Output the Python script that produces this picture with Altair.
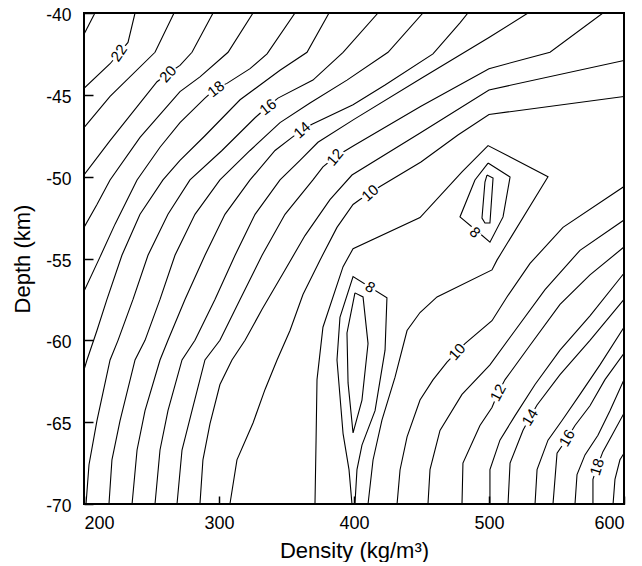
import altair as alt
import pandas as pd

# ---- contour polylines (density kg/m^3, depth km) ----
c23 = [(208.1,-40),(200,-41.3)]
c22 = [(237.8,-40),(232.6,-41.8),(219.3,-43.1),(200,-44.6)]
c21 = [(266.7,-40),(252.6,-42.4),(219.3,-45.1),(200,-47.0)]
c20 = [(295.6,-40),(280,-42.4),(271.1,-43.2),(262.2,-43.7),(254.1,-44.2),(219.3,-47.8),(200,-49.9)]
c19 = [(325.2,-40),(306.7,-42.4),(285.9,-43.9),(271.1,-44.8),(241.5,-47.6),(219.3,-50.2),(209.6,-51.7),(200,-53.1)]
c18 = [(356.3,-40),(335.6,-42.5),(323,-43.4),(305.9,-44.3),(297.8,-44.6),(289.6,-45.2),(271.1,-46.7),
       (256.3,-48.2),(239.3,-50.2),(223,-52.9),(211.9,-54.9),(200,-57.0)]
c17 = [(381.5,-40),(365.2,-42.4),(345.2,-43.5),(315.6,-45.3),(289.6,-47.5),(271.1,-49.0),(258.5,-50.2),
       (241.5,-52.3),(228.1,-54.8),(217,-57.5),(209.6,-59.4),(202.2,-61.2),(200,-61.8)]
c16 = [(417.8,-40),(391.9,-42.4),(369.6,-44.1),(343.7,-45.2),(336.3,-45.7),(326.7,-46.4),(302.2,-48.4),
       (278.5,-50.2),(262.2,-52.3),(247.4,-54.8),(236.3,-57.5),(225.2,-60.0),(219.3,-61.2),(209.6,-64.9),
       (203.7,-67.6),(201.5,-70)]
c15 = [(451.1,-40),(425.2,-42.4),(394.8,-44.1),(367.4,-45.5),(345.2,-46.7),(323,-48.4),(300.7,-50.2),
       (282.2,-52.3),(267.4,-54.8),(256.3,-57.5),(245.2,-60.0),(237.8,-61.2),(226.7,-64.9),(220.7,-67.3),
       (218.5,-70)]
c14 = [(484.4,-40),(478.5,-40.6),(458.5,-42.5),(423,-44.4),(399.3,-45.6),(368.9,-46.8),(361.5,-47.15),
       (354.1,-47.6),(341.5,-48.4),(323,-50.2),(304.4,-52.3),(289.6,-54.8),(274.8,-57.5),(262.2,-60.0),
       (256.3,-61.2),(245.2,-64.3),(239.3,-66.7),(235.6,-70)]
c13 = [(528.9,-40),(500,-41.5),(449.6,-44.0),(400,-46.5),(373.3,-47.9),(360,-49.0),(345.2,-50.2),
       (326.7,-52.3),(311.9,-54.8),(297,-57.5),(282.2,-60.0),(272.6,-61.2),(262.2,-64.3),(256.3,-66.7),
       (252.6,-70)]
c12 = [(584.4,-40),(545.2,-42.4),(500,-43.4),(449.6,-45.7),(400,-48.1),(385.9,-48.8),(377,-49.4),
       (369.6,-50.2),(348.9,-52.3),(331.9,-54.8),(315.6,-57.5),(300.7,-60.0),(289.6,-61.2),(280,-64.3),
       (272.6,-66.7),(268.9,-70)]
c11 = [(600,-42.9),(500,-44.7),(449.6,-47.3),(398.5,-49.9),(382.2,-51.4),(363.7,-53.6),(348.9,-55.7),
       (331.9,-58.1),(319.3,-60.0),(309.6,-61.2),(300.7,-62.7),(293.3,-65.1),(288.1,-67.3),(285.9,-70)]
c10a = [(600,-45.1),(500,-46.2),(477,-47.45),(449.6,-49.1),(419.3,-50.6),(411.9,-51.0),(404.4,-51.4),
        (399.3,-51.7),(387.4,-53.1),(374.8,-55.1),(362.2,-57.2),(352.6,-59.4),(343,-61.2),(334.1,-63.0),
        (325.2,-65.05),(313.3,-67.3),(308.1,-70)]
c9 = [(371.1,-70),(371.9,-66.1),(372.6,-62.4),(377,-59.2),(391.9,-55.5),(399.3,-54.4),(448.9,-52.5),
      (480,-49.7),(499.3,-48.1),(543.7,-50.0),(505.9,-55.1),(502.2,-55.7),(461.5,-57.35),(448.9,-58.3),
      (439.3,-59.4),(430.4,-62.25),(420.7,-64.87),(414.1,-67.31),(410.4,-70)]
c8a = [(398.5,-70),(396.3,-67.9),(391.9,-65.7),(387.4,-61.2),(389.6,-58.6),(399.3,-56.1),(424.4,-57.4),
       (423,-60.6),(415.6,-64.3),(405.9,-66.4),(402.2,-67.9),(400.7,-70)]
c7a = [(400.7,-57.1),(406.7,-57.35),(410.4,-60.2),(405.9,-63.65),(399.3,-65.66),(395.6,-62.6),
       (394.8,-59.55),(400.7,-57.1)]
c8b = [(499.3,-49.17),(515.6,-50.02),(510.4,-52.46),(500.7,-54.0),(491.9,-53.38),(478.5,-52.46),
       (489.6,-50.2),(499.3,-49.17)]
c7b = [(498.5,-49.9),(503,-50.08),(500.7,-52.83),(497,-52.83),(494.8,-52.53),(497,-50.33),(498.5,-49.9)]
c10b = [(600,-50.6),(554.8,-53.1),(530.4,-55.3),(513.3,-57.35),(502.2,-58.8),(482.2,-60.2),(476.3,-60.7),
        (468.9,-61.33),(458.5,-62.42),(448.9,-63.65),(439.3,-65.9),(434.1,-67.92),(431.9,-70)]
c11b = [(454.8,-70),(456.3,-67.9),(463.7,-65.5),(480,-63.3),(500.7,-61.5),(519.3,-59.4),(541.5,-56.9),
        (567.4,-54.5),(600,-52.65)]
c12b = [(480,-70),(480.7,-67.5),(493.3,-65.2),(502.2,-64.1),(506.7,-63.2),(511.9,-62.4),(530.4,-60.3),
        (552.6,-57.8),(574.8,-56.0),(600,-54.3)]
c13b = [(500.7,-70),(500.7,-67.9),(508.1,-66.1),(519.3,-64.6),(534.1,-62.7),(552.6,-60.6),(574.8,-58.5),
        (600,-55.9)]
c14b = [(514.1,-70),(515.6,-67.5),(525.2,-65.5),(530.4,-64.7),(535.6,-63.95),(552.6,-62.1),(574.8,-60.0),
        (600,-57.5)]
c15b = [(534.1,-70),(535.6,-67.9),(543.7,-66.1),(554.1,-64.9),(567.4,-63.3),(582.2,-61.5),(600,-59.2)]
c16b = [(547.4,-70),(550.4,-66.9),(557.8,-66.0),(563.7,-65.2),(574.8,-64.0),(585.9,-62.4),(600,-60.8)]
c17b = [(563.7,-70),(565.2,-68.2),(571.1,-67.0),(580.7,-65.8),(589.6,-64.3),(600,-62.4)]
c18b = [(577,-70),(577,-68.5),(580,-67.75),(584.4,-66.8),(591.1,-65.8),(600,-64.45)]
c19b = [(591.9,-70),(593.3,-68.5),(597,-67.3),(600,-66.9)]

pieces = {
    "c23": c23, "c22": c22, "c21": c21, "c20": c20, "c19": c19, "c18": c18, "c17": c17,
    "c16": c16, "c15": c15, "c14": c14, "c13": c13, "c12": c12, "c11": c11, "c10a": c10a,
    "c9": c9, "c8a": c8a, "c7a": c7a, "c8b": c8b, "c7b": c7b, "c10b": c10b, "c11b": c11b,
    "c12b": c12b, "c13b": c13b, "c14b": c14b, "c15b": c15b, "c16b": c16b, "c17b": c17b,
    "c18b": c18b, "c19b": c19b,
}

# ---- contour labels ----
label_text = ["22", "20", "18", "16", "14", "12", "10", "10", "12", "14", "16", "18", "8", "8"]
label_density = [225.9, 262.2, 297.8, 336.3, 361.5, 385.9, 411.9, 476.3, 506.7, 530.4, 557.8, 580.0, 411.9, 489.6]
label_depth = [-42.44, -43.73, -44.64, -45.74, -47.15, -48.8, -51.0, -60.7, -63.2, -64.7, -65.97, -67.74, -56.75, -53.4]
label_angle = [305, 312, 322, 322, 318, 310, 318, 312, 298, 302, 300, 288, 32, 45]

x_ticks = [200, 300, 400, 500, 600]
y_ticks = [-40, -45, -50, -55, -60, -65, -70]

rows = []
for name, pts in pieces.items():
    for i, (d, z) in enumerate(pts):
        rows.append({"seg": name, "ord": i, "density": d, "depth": z})
lines_df = pd.DataFrame(rows)

labels_df = pd.DataFrame({
    "text": label_text,
    "density": label_density,
    "depth": label_depth,
    "angle": label_angle,
})
labels_df["box"] = [361 if len(t) > 1 else 160 for t in label_text]

FONT = "Liberation Sans"
HYPHEN = "datum.value < 0 ? '-' + abs(datum.value) : '' + datum.value"

xscale = alt.Scale(domain=[200, 600], nice=False, zero=False)
yscale = alt.Scale(domain=[-70, -40], nice=False, zero=False)

xaxis = alt.Axis(values=x_ticks, title="Density (kg/m³)", grid=False, domain=False,
                 ticks=True, tickSize=8, tickWidth=1.5, tickColor="black", offset=-8,
                 labelPadding=10, labelFont=FONT, labelFontSize=18, labelColor="black",
                 labelExpr=HYPHEN,
                 titleFont=FONT, titleFontSize=22, titleFontWeight="normal", titleColor="black",
                 titleX=270, titleY=54, titleBaseline="middle", titleAlign="center")
yaxis = alt.Axis(values=y_ticks, title="Depth (km)", grid=False, domain=False,
                 ticks=True, tickSize=9, tickWidth=1.5, tickColor="black", offset=-9,
                 labelPadding=13, labelFont=FONT, labelFontSize=17.5, labelColor="black",
                 labelExpr=HYPHEN, labelOffset=2.5,
                 titleFont=FONT, titleFontSize=22, titleFontWeight="normal", titleColor="black",
                 titleAngle=270, titleX=-71, titleY=245.5, titleBaseline="middle", titleAlign="center")

lines = alt.Chart(lines_df).mark_line(color="black", strokeWidth=1.1, clip=True).encode(
    x=alt.X("density:Q", scale=xscale, axis=xaxis),
    y=alt.Y("depth:Q", scale=yscale, axis=yaxis),
    detail="seg:N",
    order="ord:Q",
)

boxes = alt.Chart(labels_df).mark_point(
    shape="M-1,-0.5L1,-0.5L1,0.5L-1,0.5Z", filled=True, color="white", opacity=1, strokeWidth=0
).encode(
    x=alt.X("density:Q", scale=xscale),
    y=alt.Y("depth:Q", scale=yscale),
    angle=alt.Angle("angle:Q", scale=None),
    size=alt.Size("box:Q", scale=None),
)

texts = alt.Chart(labels_df).mark_text(
    font=FONT, fontSize=15, color="black", align="center", baseline="middle"
).encode(
    x=alt.X("density:Q", scale=xscale),
    y=alt.Y("depth:Q", scale=yscale),
    text="text:N",
    angle=alt.Angle("angle:Q", scale=None),
)

chart = alt.layer(lines, boxes, texts).properties(
    width=540, height=491,
    padding={"left": 76, "top": 5, "right": 10, "bottom": 58},
    autosize=alt.AutoSizeParams(type="none"),
    background="white",
).configure_view(stroke="black", strokeWidth=2)

chart.save("out.html", embed_options={"renderer": "svg", "actions": False})
